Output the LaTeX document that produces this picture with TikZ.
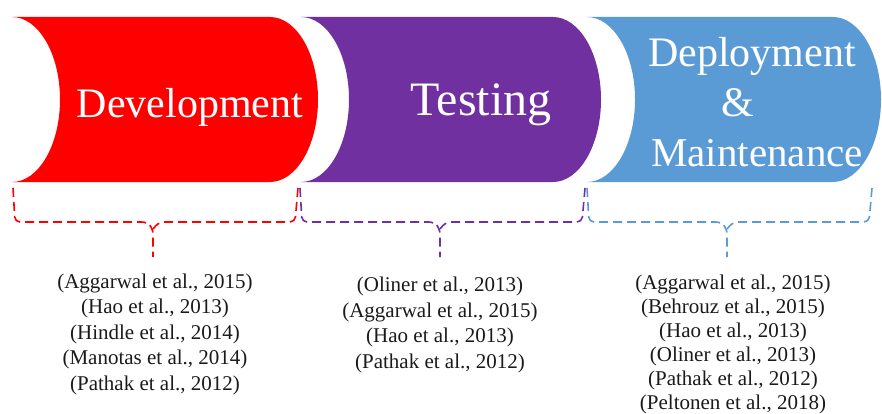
\documentclass[tikz,border=0pt]{standalone}
\usepackage{fontspec}
\setmainfont{Liberation Serif}
\definecolor{devred}{HTML}{FF0000}
\definecolor{testpurple}{HTML}{7030A0}
\definecolor{deployblue}{HTML}{5B9BD5}
\definecolor{reftext}{HTML}{1A1A1A}

% Phase banner: concave left edge, convex right edge (quarter-ellipse curves)
% #1 = colour, #2 = left x, #3 = right x
\newcommand{\phasebanner}[3]{%
  \fill[#1] (#2,17) -- ({#3-48},17)
    .. controls ({#3-21.5},17) and (#3,53.9) .. (#3,99.5)
    .. controls (#3,145.1) and ({#3-21.5},182) .. ({#3-48},182)
    -- (#2,182)
    .. controls ({#2+26.5},182) and ({#2+48},145.1) .. ({#2+48},99.5)
    .. controls ({#2+48},53.9) and ({#2+26.5},17) .. (#2,17) -- cycle;}

% Dashed brace under a banner
% #1 = colour, #2 = left x, #3 = right x, #4 = tip x
\newcommand{\phasebrace}[4]{%
  \draw[brace,#1] (#2,188) -- ({#2+2},222) -- ({#4-6},222) -- (#4,229) -- (#4,257);
  \draw[brace,#1] (#3,188) -- ({#3-3},222) -- ({#4+6},222) -- (#4,229);}

\begin{document}
\begin{tikzpicture}[x=1pt,y=-1pt,
  brace/.style={dashed, dash pattern=on 9pt off 5pt, line width=1.6pt, rounded corners=5pt},
  title/.style={text=white, inner sep=0pt, anchor=base},
  reflist/.style={text=reftext, font=\fontsize{21}{25.5}\selectfont, align=center, inner sep=0pt, anchor=base}]
  \useasboundingbox (0,0) rectangle (882,414);

  % banners
  \phasebanner{devred}{12}{318}
  \phasebanner{testpurple}{301}{601}
  \phasebanner{deployblue}{587}{881}

  % banner titles
  \node[title, font=\fontsize{42}{50}\selectfont] (dev) at (190,118) {Development};
  \node[title, font=\fontsize{48}{50}\selectfont] (test) at (481,116) {Testing};
  \node[title, font=\fontsize{42}{50}\selectfont] (dep1) at (752,67) {Deployment};
  \node[title, font=\fontsize{42}{50}\selectfont] (dep2) at (738,117) {\&};
  \node[title, font=\fontsize{41}{50}\selectfont] (dep3) at (757,167) {Maintenance};

  % braces
  \phasebrace{devred}{13}{298}{153}
  \phasebrace{testpurple}{300}{585}{440}
  \phasebrace{deployblue}{587}{872}{727}

  % reference lists (base anchor sits on the last line)
  \node[reflist] (devrefs) at (155,390) {(Aggarwal et al., 2015)\\(Hao et al., 2013)\\(Hindle et al., 2014)\\(Manotas et al., 2014)\\(Pathak et al., 2012)};
  \node[reflist] (testrefs) at (440,368) {(Oliner et al., 2013)\\(Aggarwal et al., 2015)\\(Hao et al., 2013)\\(Pathak et al., 2012)};
  \node[reflist, font=\fontsize{21}{24}\selectfont] (deprefs) at (733,409) {(Aggarwal et al., 2015)\\(Behrouz et al., 2015)\\(Hao et al., 2013)\\(Oliner et al., 2013)\\(Pathak et al., 2012)\\(Peltonen et al., 2018)};
\end{tikzpicture}
\end{document}
